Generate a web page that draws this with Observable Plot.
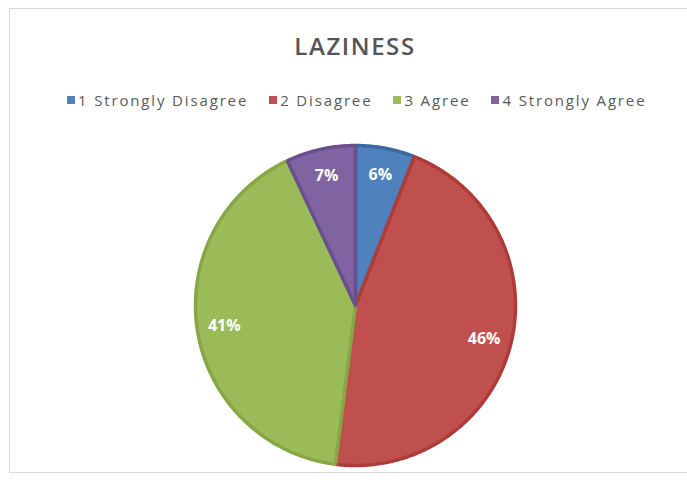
<!DOCTYPE html>
<html>
<head>
<meta charset="utf-8">
<script src="https://cdn.jsdelivr.net/npm/d3@7"></script>
<script src="https://cdn.jsdelivr.net/npm/@observablehq/plot@0.6"></script>
<style>
  html, body { margin: 0; padding: 0; background: #ffffff; }
  body { width: 687px; height: 485px; position: relative; overflow: hidden; font-family: "Open Sans", sans-serif; }
  #frame { position: absolute; left: 9px; top: 8px; width: 700px; height: 465px; border: 1px solid #d9d9d9; box-sizing: border-box; }
  #title { position: absolute; left: 0; top: 29px; width: 710px; text-align: center; font-size: 24px; font-weight: 600; color: #555555; letter-spacing: 1.6px; }
  #legend { position: absolute; left: 67px; top: 90px; display: flex; align-items: center; font-size: 15px; color: #595959; letter-spacing: 1.85px; white-space: nowrap; }
  .item { display: flex; align-items: center; margin-right: 21px; }
  .sw { width: 8px; height: 8px; margin-right: 3px; }
  #pie { position: absolute; left: 190px; top: 140px; }
</style>
</head>
<body>
<div id="frame"></div>
<div id="title"></div>
<div id="legend"></div>
<div id="pie"></div>
<script>
const chartTitle = "LAZINESS";
const categories = ["1 Strongly Disagree", "2 Disagree", "3 Agree", "4 Strongly Agree"];
const values = [6, 46, 41, 7];
const labels = ["6%", "46%", "41%", "7%"];
const colors = ["#4f81bd", "#c0504d", "#9bbb59", "#8064a2"];
const edgeColors = ["#3a69a3", "#ad3c39", "#86a746", "#6a4f8e"];

document.getElementById("title").textContent = chartTitle;

const legend = document.getElementById("legend");
categories.forEach((c, i) => {
  const it = document.createElement("div");
  it.className = "item";
  const sw = document.createElement("span");
  sw.className = "sw";
  sw.style.background = colors[i];
  const tx = document.createElement("span");
  tx.textContent = c;
  it.appendChild(sw); it.appendChild(tx);
  legend.appendChild(it);
});

const rows = categories.map((c, i) => ({category: c, value: values[i], label: labels[i], color: colors[i], edge: edgeColors[i]}));
const arcs = d3.pie().sort(null).value(d => d.value).startAngle(0).endAngle(2 * Math.PI)(rows);

// polygon points for each slice (unit radius, angle clockwise from top)
const pts = [];
arcs.forEach(a => {
  const n = Math.max(8, Math.ceil((a.endAngle - a.startAngle) / 0.01));
  pts.push({k: a.data.category, x: 0, y: 0, fill: a.data.color, stroke: a.data.edge});
  for (let j = 0; j <= n; j++) {
    const t = a.startAngle + (a.endAngle - a.startAngle) * j / n;
    pts.push({k: a.data.category, x: Math.sin(t), y: Math.cos(t), fill: a.data.color, stroke: a.data.edge});
  }
  pts.push({k: a.data.category, x: 0, y: 0, fill: a.data.color, stroke: a.data.edge});
});

const labelR = 0.83;
const labelPts = arcs.map(a => {
  const m = (a.startAngle + a.endAngle) / 2;
  return {x: labelR * Math.sin(m), y: labelR * Math.cos(m), text: a.data.label};
});

const size = 330, R = 160;
const lim = size / 2 / R;
const plot = Plot.plot({
  width: size,
  height: size,
  margin: 0,
  x: {domain: [-lim, lim], axis: null},
  y: {domain: [-lim, lim], axis: null},
  color: {type: "identity"},
  marks: [
    Plot.line(pts, {x: "x", y: "y", z: "k", fill: "fill", stroke: "stroke", strokeWidth: 3.5, strokeLinejoin: "miter", curve: "linear"}),
    Plot.text(labelPts, {x: "x", y: "y", text: "text", fill: "#ffffff", fontSize: 16, fontWeight: "bold", fontFamily: "Open Sans, sans-serif"})
  ]
});
document.getElementById("pie").appendChild(plot);
</script>
</body>
</html>
